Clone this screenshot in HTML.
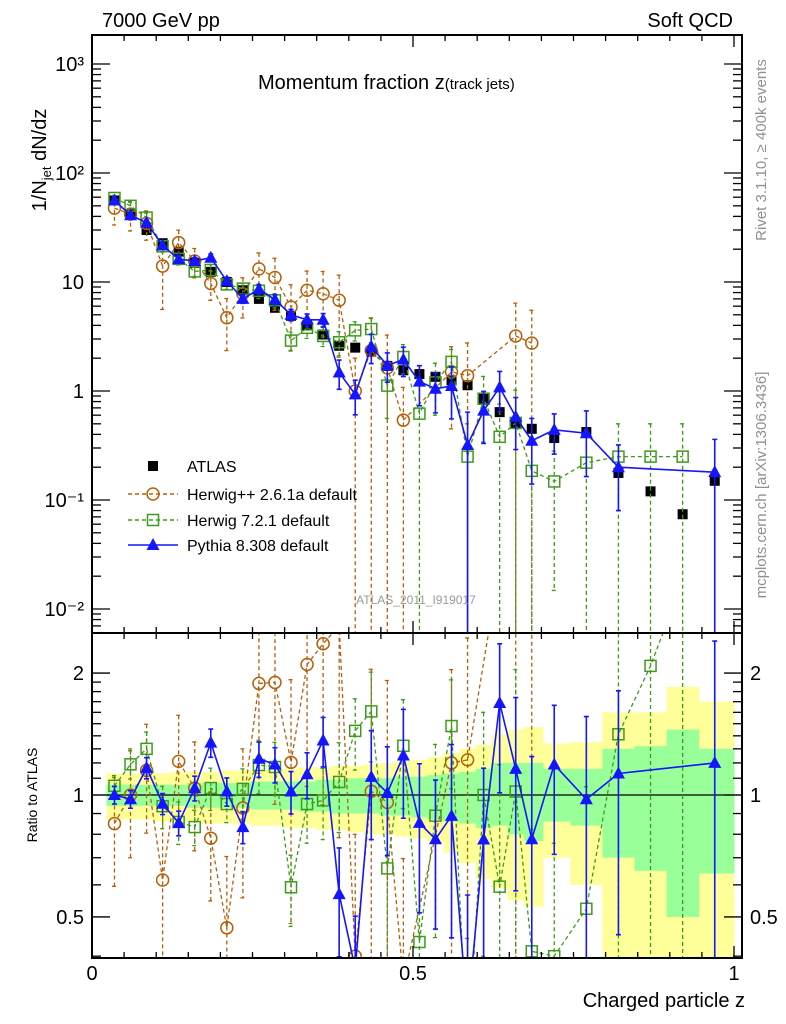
<!DOCTYPE html>
<html><head><meta charset="utf-8"><style>
html,body{margin:0;padding:0;background:#fff;overflow:hidden;width:786px;height:1024px;position:relative;}
svg{display:block;position:absolute;left:0;top:0;font-family:"Liberation Sans",sans-serif;}
</style></head><body>
<svg id="chart" width="786" height="1024" viewBox="0 0 786 1024" xmlns="http://www.w3.org/2000/svg" overflow="hidden">
<defs>
<clipPath id="clipMain"><rect x="92" y="35" width="650" height="598"/></clipPath>
<clipPath id="clipRatio"><rect x="92" y="633" width="650" height="325"/></clipPath>
</defs>
<rect x="0" y="0" width="786" height="1024" fill="#fff"/>
<g id="bands" clip-path="url(#clipRatio)"></g>
<g id="mainG" clip-path="url(#clipMain)"></g>
<g id="ratioG" clip-path="url(#clipRatio)"></g>
<g id="axes"></g>
<text x="102" y="27" font-size="20">7000 GeV pp</text>
<text x="733" y="27" font-size="20" text-anchor="end">Soft QCD</text>
<text x="258" y="89" font-size="20">Momentum fraction z<tspan font-size="15">(track jets)</tspan></text>
<text x="416" y="604" font-size="12" fill="#999" text-anchor="middle">ATLAS_2011_I919017</text>
<text transform="translate(46,160) rotate(-90)" font-size="20" text-anchor="middle">1/N<tspan font-size="13" dy="5">jet</tspan><tspan dy="-5"> dN/dz</tspan></text>
<text transform="translate(37,795) rotate(-90)" font-size="14" text-anchor="middle">Ratio to ATLAS</text>
<text x="745" y="1007" font-size="20" text-anchor="end">Charged particle z</text>
<text transform="translate(766,150) rotate(-90)" font-size="15" fill="#909090" text-anchor="middle">Rivet 3.1.10, ≥ 400k events</text>
<text transform="translate(766,485) rotate(-90)" font-size="15" fill="#909090" text-anchor="middle">mcplots.cern.ch [arXiv:1306.3436]</text>
<g id="legend"></g>
</svg>
<script>
const zCenters=[0.035,0.06,0.085,0.11,0.135,0.16,0.185,0.21,0.235,0.26,0.285,0.31,0.335,0.36,0.385,0.41,0.435,0.46,0.485,0.51,0.535,0.56,0.585,0.61,0.635,0.66,0.685,0.72,0.77,0.82,0.87,0.92,0.97];
const atlasVals=[56,42,30,22.7,19,15,12.4,10,8.4,7,5.8,4.9,4.0,3.3,2.6,2.5,2.3,1.7,1.55,1.43,1.35,1.25,1.13,0.85,0.64,0.5,0.45,0.37,0.42,0.177,0.12,0.074,0.15];
const pythiaVals=[56,41,35,21.6,16.2,15.6,16.7,10.2,7.0,8.6,6.9,5.0,4.5,4.5,1.48,0.93,2.55,1.72,1.94,1.22,1.05,1.11,0.32,0.66,1.08,0.58,0.35,0.44,0.41,0.2,null,null,0.18];
const herwig7Vals=[59,50,39,21.3,16.3,12.5,12.9,9.5,8.7,8.3,6.8,2.9,3.8,3.2,2.8,3.6,3.7,1.12,2.05,0.62,1.2,1.85,0.25,0.85,0.38,0.51,0.185,0.148,0.22,0.25,0.25,0.25,null];
const herwigppVals=[47.6,42,34.5,14,23,15.6,9.7,4.7,7.8,13.2,11,5.9,8.4,7.8,6.8,1.0,2.35,1.63,0.54,null,null,1.5,1.38,null,null,3.2,2.75,null,null,null,null,null,null];
const pythiaErr=[0.05,0.05,0.06,0.06,0.07,0.07,0.08,0.08,0.09,0.1,0.1,0.12,0.13,0.14,0.3,0.35,0.3,0.3,0.3,0.4,0.4,0.5,1,0.5,0.4,0.5,0.6,0.4,0.6,0.6,null,null,1];
const herwig7Err=[0.06,0.08,0.1,0.12,0.12,0.1,0.12,0.1,0.12,0.15,0.15,0.2,0.2,0.2,0.25,0.2,0.25,0.5,0.3,1,0.5,0.3,1,0.6,1,1,1,0.9,1,1,1,1,null];
const herwigppErr=[0.3,0.3,0.3,0.6,0.3,0.3,0.3,0.5,0.4,0.4,0.5,0.6,0.5,0.6,0.7,1,1,1,1,null,null,0.7,1,null,null,1,1,null,null,null,null,null,null];
const bandYellowHi=[1.13,1.13,1.13,1.13,1.14,1.14,1.14,1.15,1.15,1.15,1.16,1.16,1.17,1.17,1.18,1.18,1.19,1.2,1.21,1.22,1.24,1.27,1.3,1.33,1.41,1.45,1.47,1.34,1.35,1.6,1.6,1.85,1.7];
const bandYellowLo=[0.87,0.87,0.87,0.86,0.86,0.86,0.85,0.85,0.85,0.84,0.84,0.83,0.83,0.82,0.82,0.81,0.8,0.8,0.79,0.78,0.76,0.72,0.68,0.62,0.59,0.55,0.53,0.7,0.6,0.3,0.3,0.3,0.3];
const bandGreenHi=[1.06,1.06,1.06,1.06,1.06,1.07,1.07,1.07,1.07,1.08,1.08,1.08,1.08,1.09,1.09,1.1,1.1,1.1,1.11,1.11,1.12,1.13,1.14,1.16,1.2,1.2,1.2,1.16,1.16,1.3,1.32,1.45,1.3];
const bandGreenLo=[0.94,0.94,0.94,0.94,0.94,0.93,0.93,0.93,0.93,0.92,0.92,0.92,0.91,0.91,0.9,0.9,0.9,0.89,0.89,0.88,0.87,0.86,0.85,0.83,0.84,0.8,0.77,0.86,0.84,0.7,0.65,0.5,0.64];
const mainTickLabels=["10⁻²","10⁻¹","1","10","10²","10³"];
const ratioTickLabels=["0.5","1","2"];
const xTickLabels=["0","0.5","1"];

const NS="http://www.w3.org/2000/svg";
const X0=92,XS=642,XR=742;
const MT=35,MB=633,RT=633,RB=958;
const sx=z=>X0+XS*z;
const sy=v=>391-109*Math.log10(v);
const sr=r=>795-405*Math.log10(r);
function mk(tag,attrs,parent){const e=document.createElementNS(NS,tag);for(const k in attrs)e.setAttribute(k,attrs[k]);parent.appendChild(e);return e;}
const mainG=document.getElementById('mainG'),ratioG=document.getElementById('ratioG'),bandsG=document.getElementById('bands'),axes=document.getElementById('axes'),legend=document.getElementById('legend');

const edges=[0.0225];
for(let i=0;i<zCenters.length-1;i++)edges.push((zCenters[i]+zCenters[i+1])/2);
edges.push(1.0);
for(let i=0;i<zCenters.length;i++){
  const x1=sx(edges[i]),x2=sx(edges[i+1]);
  const y=mk('rect',{x:x1,y:sr(bandYellowHi[i]),width:x2-x1+0.5,height:sr(bandYellowLo[i])-sr(bandYellowHi[i]),fill:'#ffff99'},bandsG);
  
  
}
for(let i=0;i<zCenters.length;i++){
  const x1=sx(edges[i]),x2=sx(edges[i+1]);
  const g=mk('rect',{x:x1,y:sr(bandGreenHi[i]),width:x2-x1+0.5,height:sr(bandGreenLo[i])-sr(bandGreenHi[i]),fill:'#99ff99'},bandsG);
  
  
}
const one=mk('line',{x1:X0,x2:XR,y1:sr(1),y2:sr(1),stroke:'#000','stroke-width':1.3},ratioG);



function marker(type,cx,cy,color,parent,name){
  let e;
  if(type==='sq')e=mk('rect',{x:cx-5,y:cy-5,width:10,height:10,fill:'#000'},parent);
  else if(type==='osq')e=mk('rect',{x:cx-5.5,y:cy-5.5,width:11,height:11,fill:'none',stroke:color,'stroke-width':1.5},parent);
  else if(type==='circ')e=mk('circle',{cx:cx,cy:cy,r:6,fill:'none',stroke:color,'stroke-width':1.5},parent);
  else e=mk('path',{d:`M${cx},${cy-7}L${cx+6.5},${cy+5}L${cx-6.5},${cy+5}Z`,fill:color},parent);
  
  
  return e;
}
function drawSeries(vals,errs,color,dash,type,key,width){
  const pts=[],rpts=[];
  for(let i=0;i<zCenters.length;i++){
    const v=vals[i];if(v==null)continue;
    const x=sx(zCenters[i]);const y=sy(v);
    const r=v/atlasVals[i];const yr=sr(r);
    pts.push([x,y]);rpts.push([x,yr]);
    const e=errs[i]||0;
    const hiM=sy(v*(1+e)),loM=(1-e)>0.01?sy(v*(1-e)):MB+5;
    const hiR=sr(r*(1+e)),loR=(1-e)>0.01?sr(r*(1-e)):RB+5;
    [[mainG,hiM,loM],[ratioG,hiR,loR]].forEach(([g,hi,lo])=>{
      const l=mk('path',{d:`M${x},${hi}V${lo}M${x-2.5},${hi}H${x+2.5}M${x-2.5},${lo}H${x+2.5}`,stroke:color,'stroke-width':width,fill:'none','stroke-dasharray':dash},g);
      
      
    });
  }
  const ln=mk('polyline',{points:pts.map(p=>p.join(',')).join(' '),fill:'none',stroke:color,'stroke-width':width,'stroke-dasharray':dash},mainG);
  
  
  const lr=mk('polyline',{points:rpts.map(p=>p.join(',')).join(' '),fill:'none',stroke:color,'stroke-width':width,'stroke-dasharray':dash},ratioG);
  
  
  pts.forEach(p=>marker(type,p[0],p[1],color,mainG,key+'-point'));
  rpts.forEach(p=>marker(type,p[0],p[1],color,ratioG,key+'-ratio-point'));
}
for(let i=0;i<zCenters.length;i++){
  marker('sq',sx(zCenters[i]),sy(atlasVals[i]),'#000',mainG,'atlas-point');
}
drawSeries(herwigppVals,herwigppErr,'#b5600b','4,3','circ','herwigpp',1.3);
drawSeries(herwig7Vals,herwig7Err,'#3d9b1c','4,3','osq','herwig7',1.3);
drawSeries(pythiaVals,pythiaErr,'#1515ff','none','tri','pythia',1.6);

[[MT,MB],[RT,RB]].forEach(([t,b],k)=>{
  const f=mk('rect',{x:X0,y:t,width:XR-X0,height:b-t,fill:'none',stroke:'#000','stroke-width':2},axes);
  
  
  for(let j=0;j<=20;j++){
    const z=j*0.05,x=sx(z),L=(j%10===0)?12:6;
    mk('line',{x1:x,x2:x,y1:b,y2:b-L,stroke:'#000','stroke-width':1.3},axes);
    mk('line',{x1:x,x2:x,y1:t,y2:t+L,stroke:'#000','stroke-width':1.3},axes);
  }
});
xTickLabels.forEach((s,j)=>{
  const t=mk('text',{x:sx(j*0.5),y:980,'font-size':20,'text-anchor':'middle'},axes);t.textContent=s;
  
  
});
for(let d=-3;d<=3;d++){
  for(let m=1;m<10;m++){
    const v=m*Math.pow(10,d);const y=sy(v);
    if(y<MT||y>MB)continue;
    const L=m===1?18:9;
    mk('line',{x1:X0,x2:X0+L,y1:y,y2:y,stroke:'#000','stroke-width':1.3},axes);
    mk('line',{x1:XR,x2:XR-L,y1:y,y2:y,stroke:'#000','stroke-width':1.3},axes);
  }
}
mainTickLabels.forEach((s,j)=>{
  const d=j-2;const t=mk('text',{x:84,y:sy(Math.pow(10,d))+7,'font-size':20,'text-anchor':'end'},axes);
  t.textContent=s;
  
  
});
for(let r=0.4;r<=2.5;r+= (r<2?0.1:0.5)){
  const rr=Math.round(r*10)/10;const y=sr(rr);if(y<RT||y>RB)continue;
  const L=(rr===0.5||rr===1||rr===2)?18:9;
  mk('line',{x1:X0,x2:X0+L,y1:y,y2:y,stroke:'#000','stroke-width':1.3},axes);
  mk('line',{x1:XR,x2:XR-L,y1:y,y2:y,stroke:'#000','stroke-width':1.3},axes);
}
ratioTickLabels.forEach(s=>{
  const y=sr(parseFloat(s))+7;
  const a=mk('text',{x:84,y:y,'font-size':20,'text-anchor':'end'},axes);a.textContent=s;
  
  
  const b=mk('text',{x:750,y:y,'font-size':20},axes);b.textContent=s;
  
  
});
const entries=[['ATLAS','sq','#000','none',466],['Herwig++ 2.6.1a default','circ','#b5600b','4,3',494],['Herwig 7.2.1 default','osq','#3d9b1c','4,3',520],['Pythia 8.308 default','tri','#1515ff','none',545]];
entries.forEach(([lab,type,col,dash,y],k)=>{
  if(k>0){
    const l=mk('line',{x1:128,x2:178,y1:y,y2:y,stroke:col,'stroke-width':1.5,'stroke-dasharray':dash},legend);
    
    
  }
  marker(type,153,y,col,legend,'legend-marker');
  const t=mk('text',{x:187,y:y+6,'font-size':16},legend);t.textContent=lab;
  
  
});
</script>
</body></html>
